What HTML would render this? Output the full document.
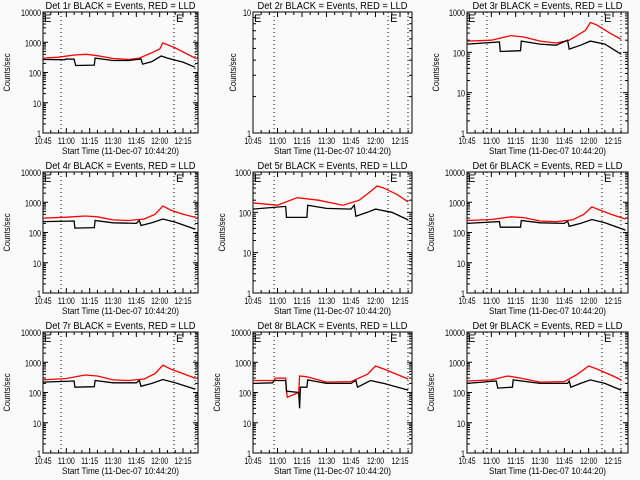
<!DOCTYPE html>
<html><head><meta charset="utf-8"><style>
html,body{margin:0;padding:0;background:#fafafa;}
svg{display:block;font-family:"Liberation Sans",sans-serif;}
</style></head><body>
<svg id="chart" width="640" height="480" viewBox="0 0 640 480" xmlns="http://www.w3.org/2000/svg">
<rect x="0" y="0" width="640" height="480" fill="#fafafa"/>
</svg>
<script>
const xTickLabels = ["10:45","11:00","11:15","11:30","11:45","12:00","12:15"];
const panelNames = ["Det 1r","Det 2r","Det 3r","Det 4r","Det 5r","Det 6r","Det 7r","Det 8r","Det 9r"];
const panelYMax = [10000,10,1000,10000,1000,10000,10000,10000,10000];
const colDotted = [[11.6,84.2,97.7],[12.9,82.7,94.9],[12.3,83.2,94.9]];
// black = events, red = LLD ; times in minutes after 10:45
const p1BlackT=[0,14,14.5,20,21,33,33.5,45,55,63,64,70,76,80,90,97.7];
const p1BlackV=[270,265,280,275,170,175,300,250,250,280,190,230,350,300,220,150];
const p1RedT=[0,10,20,28,35,45,55,62,70,75,77,85,97.7];
const p1RedV=[300,320,380,400,360,290,270,300,450,600,950,650,300];
const p2BlackT=[]; const p2BlackV=[]; const p2RedT=[]; const p2RedV=[];
const p3BlackT=[0,20,20.5,33,33.5,45,55,62,63,70,76,85,95];
const p3BlackV=[160,180,105,110,190,160,150,200,120,150,190,160,90];
const p3RedT=[0,15,27,35,45,55,63,73,76,80,88,95];
const p3RedV=[190,200,260,240,190,170,200,350,550,480,300,210];
const p4BlackT=[0,20,20.5,33,33.5,45,60,62,63,70,77,85,97.7];
const p4BlackV=[230,240,140,145,250,210,200,250,170,210,280,220,130];
const p4RedT=[0,15,27,35,45,55,65,72,77,82,90,97.7];
const p4RedV=[300,320,350,330,260,250,280,400,750,550,400,320];
const p5BlackT=[0,20,20.5,33,33.5,45,60,62,63,70,75,85,95];
const p5BlackV=[120,140,75,75,150,125,120,150,80,100,120,100,65];
const p5RedT=[0,15,27,40,55,65,72,76,80,88,95];
const p5RedV=[170,150,230,200,150,200,330,450,400,280,180];
const p6BlackT=[0,20,20.5,33,33.5,45,60,62,63,70,77,85,97.7];
const p6BlackV=[200,230,150,150,250,210,200,240,160,200,270,210,120];
const p6RedT=[0,15,27,35,45,55,65,72,77,82,90,97.7];
const p6RedV=[250,270,330,310,240,230,260,400,700,550,380,280];
const p7BlackT=[0,20,20.5,33,33.5,45,60,62,63,70,77,85,97.7];
const p7BlackV=[220,240,150,155,250,210,210,250,160,200,270,210,130];
const p7RedT=[0,15,27,35,45,55,65,72,77,82,90,97.7];
const p7RedV=[260,290,380,350,260,250,280,420,800,600,420,300];
const p8BlackT=[0,12,13,20,20.5,28,28.5,29,33,33.5,45,60,63,64,72,80,95];
const p8BlackV=[200,210,250,250,110,100,30,150,150,260,200,200,250,150,250,200,120];
const p8RedT=[0,13,13.5,20,20.5,21,28,28.5,33,45,60,70,75,80,95];
const p8RedV=[250,250,300,300,110,70,100,350,330,220,230,400,750,600,280];
const p9BlackT=[0,18,19,28,28.5,45,62,63,64,70,76,85,95];
const p9BlackV=[200,240,140,150,260,200,200,240,150,200,260,200,120];
const p9RedT=[0,15,25,33,45,60,68,75,80,90,95];
const p9RedV=[240,260,350,300,220,230,400,750,600,350,260];

const blackT=[p1BlackT,p2BlackT,p3BlackT,p4BlackT,p5BlackT,p6BlackT,p7BlackT,p8BlackT,p9BlackT];
const blackV=[p1BlackV,p2BlackV,p3BlackV,p4BlackV,p5BlackV,p6BlackV,p7BlackV,p8BlackV,p9BlackV];
const redT=[p1RedT,p2RedT,p3RedT,p4RedT,p5RedT,p6RedT,p7RedT,p8RedT,p9RedT];
const redV=[p1RedV,p2RedV,p3RedV,p4RedV,p5RedV,p6RedV,p7RedV,p8RedV,p9RedV];

const NS="http://www.w3.org/2000/svg";
const svg=document.getElementById('chart');
const colLeft=[43,253,467], colRight=[198,412,628], colPx90=[140,147,146];
const rowTop=[12,172,332], H=121;
function mk(tag,attrs,parent){const e=document.createElementNS(NS,tag);for(const k in attrs)e.setAttribute(k,attrs[k]);(parent||svg).appendChild(e);return e;}

for(let i=0;i<9;i++){
  const c=i%3,r=Math.floor(i/3);
  const L=colLeft[c],R=colRight[c],T=rowTop[r],B=T+H,ymax=panelYMax[i];
  const g=mk('g',{});
  
  
  const xs=t=>L+t/90*colPx90[c];
  const ys=v=>B-Math.log10(v)/Math.log10(ymax)*H;
  const box=mk('rect',{x:L,y:T,width:R-L,height:H,fill:'none',stroke:'#000','stroke-width':1},g);
  
  
  const title=mk('text',{x:(L+R)/2,y:T-3,'text-anchor':'middle','font-size':10,textLength:150,lengthAdjust:'spacingAndGlyphs'},g);
  
  
  title.textContent=panelNames[i]+' BLACK = Events, RED = LLD';
  for(let m=0;m<=95;m+=5){
    const x=xs(m); if(x>R)break;
    const len=(m%15===0)?5:3;
    mk('line',{x1:x,y1:B,x2:x,y2:B-len,stroke:'#000'},g);
    mk('line',{x1:x,y1:T,x2:x,y2:T+len,stroke:'#000'},g);
  }
  xTickLabels.forEach((lab,k)=>{
    const t=mk('text',{x:xs(k*15),y:B+11,'text-anchor':'middle','font-size':9,textLength:17,lengthAdjust:'spacingAndGlyphs'},g);
    
    
    t.textContent=lab;
  });
  const xt=mk('text',{x:(L+R)/2,y:B+21,'text-anchor':'middle','font-size':9.5,textLength:117,lengthAdjust:'spacingAndGlyphs'},g);
  
  
  xt.textContent='Start Time (11-Dec-07 10:44:20)';
  const dec=Math.round(Math.log10(ymax));
  for(let d=0;d<=dec;d++){
    const v=Math.pow(10,d),y=ys(v);
    mk('line',{x1:L,y1:y,x2:L+5,y2:y,stroke:'#000'},g);
    mk('line',{x1:R,y1:y,x2:R-5,y2:y,stroke:'#000'},g);
    const s=String(v);
    const t=mk('text',{x:L-2,y:y+4,'text-anchor':'end','font-size':9,textLength:4*s.length,lengthAdjust:'spacingAndGlyphs'},g);
    
    
    t.textContent=s;
    if(d<dec)for(let k=2;k<10;k++){const yy=ys(k*v);
      mk('line',{x1:L,y1:yy,x2:L+3,y2:yy,stroke:'#000'},g);
      mk('line',{x1:R,y1:yy,x2:R-3,y2:yy,stroke:'#000'},g);}
  }
  const yoff=ymax===10000?33:(ymax===1000?28:17);
  const yt=mk('text',{x:L-yoff,y:(T+B)/2,'text-anchor':'middle','font-size':9,textLength:38,lengthAdjust:'spacingAndGlyphs',transform:`rotate(-90 ${L-yoff} ${(T+B)/2})`},g);
  
  
  yt.textContent='Counts/sec';
  colDotted[c].forEach(t=>{
    const ln=mk('line',{x1:xs(t),y1:T,x2:xs(t),y2:B,stroke:'#000','stroke-dasharray':'1,3'},g);
    
    
  });
  [L+1,xs(colDotted[c][1])+2].forEach(x=>{
    const e=mk('text',{x:x,y:T+10,'font-size':11},g);
    
    
    e.textContent='E';
  });
  const drawS=(ts,vs,col,name)=>{
    if(!ts.length)return;
    const pts=ts.map((t,k)=>xs(t).toFixed(1)+','+ys(vs[k]).toFixed(1)).join(' ');
    const p=mk('polyline',{points:pts,fill:'none',stroke:col,'stroke-width':1.3},g);
    
    
  };
  drawS(redT[i],redV[i],'#ff0000','lld-series');
  drawS(blackT[i],blackV[i],'#000000','events-series');
}
</script>
</body></html>
